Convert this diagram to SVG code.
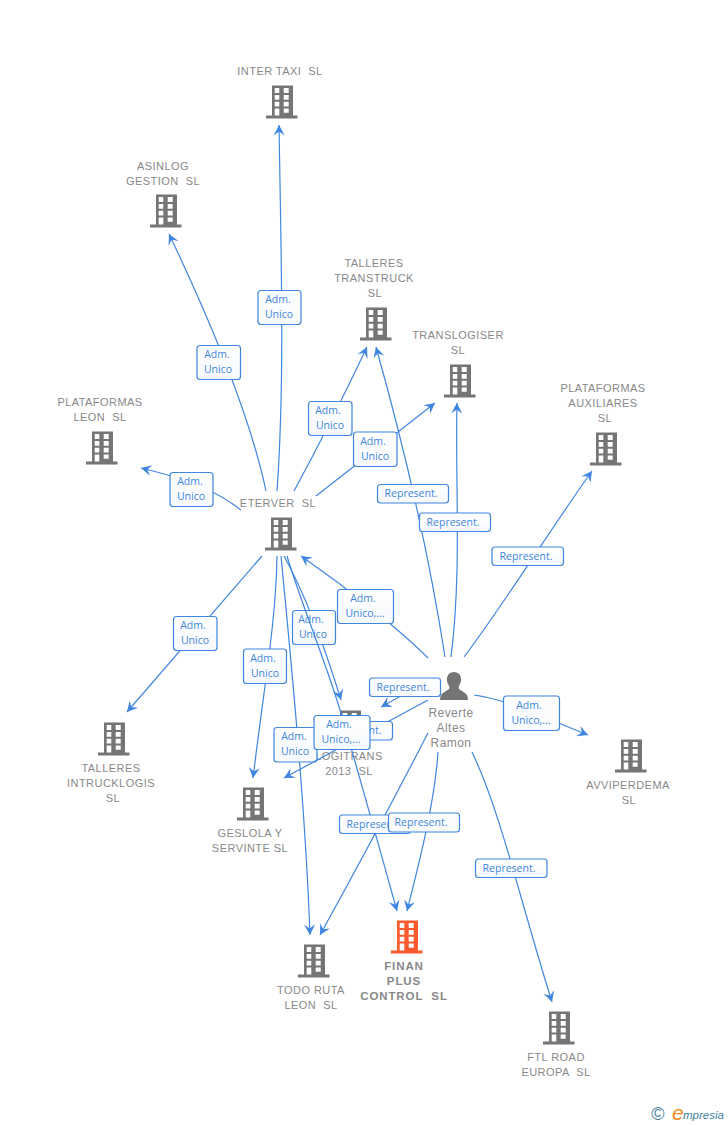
<svg xmlns="http://www.w3.org/2000/svg" width="728" height="1125" viewBox="0 0 728 1125">
<style>
text{font-family:"Liberation Sans",Arial,sans-serif;}
.n{font-size:11px;fill:#888;text-anchor:middle;white-space:pre;letter-spacing:.45px}
.p{font-size:12px;fill:#888;text-anchor:middle;letter-spacing:.45px}
.f{font-size:11.5px;font-weight:bold;fill:#888;text-anchor:middle;white-space:pre;letter-spacing:.9px}
.e{fill:none;stroke:#3f86e0;stroke-width:1.2;marker-end:url(#a)}
.b{fill:url(#g);stroke:#3f86e0;stroke-width:1.2}
.t2{font-size:10.5px;fill:#3f86e0;text-anchor:middle;font-family:"Open Sans","Liberation Sans",sans-serif}
</style>
<defs>
<linearGradient id="g" x1="0" y1="0" x2="0" y2="1"><stop offset="0" stop-color="#fff"/><stop offset="1" stop-color="#f7f9fc"/></linearGradient>
<marker id="a" markerUnits="userSpaceOnUse" markerWidth="14" markerHeight="14" viewBox="-12 -7 14 14" refX="0" refY="0" orient="auto"><path d="M0,0L-10.500,-5.500L-6.500,0L-10.500,5.500Z" fill="#3f86e0"/></marker>
<symbol id="bld" width="32" height="35" viewBox="0 0 32 35"><path fill-rule="evenodd" d="M6,0.500H27V30.500H31.500V33.500H0V30.500H6ZM8.700,3V8H13.300V3ZM17.700,3V8H22.700V3ZM8.700,10V14.700H13.300V10ZM17.700,10V14.700H22.700V10ZM8.700,16.700V21.400H13.300V16.700ZM17.700,16.700V21.400H22.700V16.700ZM8.700,23.400V30.500H13.300V23.400ZM17.700,23.400V27.700H22.700V23.400Z"/></symbol>
</defs>
<g id="nodes">
<g id="inter-taxi" fill="#757575"><use href="#bld" x="266" y="85"/><text class="n" x="280" y="75">INTER TAXI  SL</text></g>
<g id="asinlog" fill="#757575"><use href="#bld" x="150" y="194"/><text class="n" x="163" y="170">ASINLOG</text><text class="n" x="163" y="185">GESTION  SL</text></g>
<g id="talleres-transtruck" fill="#757575"><use href="#bld" x="360" y="307"/><text class="n" x="374" y="267">TALLERES</text><text class="n" x="374" y="282">TRANSTRUCK</text><text class="n" x="375" y="297">SL</text></g>
<g id="translogiser" fill="#757575"><use href="#bld" x="444" y="364"/><text class="n" x="458" y="339">TRANSLOGISER</text><text class="n" x="458" y="354">SL</text></g>
<g id="plataformas-auxiliares" fill="#757575"><use href="#bld" x="590" y="432"/><text class="n" x="603" y="392">PLATAFORMAS</text><text class="n" x="603" y="407">AUXILIARES</text><text class="n" x="605" y="422">SL</text></g>
<g id="plataformas-leon" fill="#757575"><use href="#bld" x="86" y="431"/><text class="n" x="100" y="406">PLATAFORMAS</text><text class="n" x="100" y="421">LEON  SL</text></g>
<g id="eterver" fill="#757575"><use href="#bld" x="265" y="517"/><text class="n" x="278" y="507">ETERVER  SL</text></g>
<g id="talleres-intrucklogis" fill="#757575"><use href="#bld" x="98" y="722"/><text class="n" x="111" y="772">TALLERES</text><text class="n" x="111" y="787">INTRUCKLOGIS</text><text class="n" x="113" y="802">SL</text></g>
<g id="geslola" fill="#757575"><use href="#bld" x="237" y="787"/><text class="n" x="250" y="837">GESLOLA Y</text><text class="n" x="250" y="852">SERVINTE SL</text></g>
<g id="logitrans" fill="#757575"><use href="#bld" x="334" y="710"/><text class="n" x="349" y="760">LOGITRANS</text><text class="n" x="349" y="775">2013  SL</text></g>
<g id="avviperdema" fill="#757575"><use href="#bld" x="615" y="739"/><text class="n" x="628" y="789">AVVIPERDEMA</text><text class="n" x="629" y="804">SL</text></g>
<g id="todo-ruta" fill="#757575"><use href="#bld" x="298" y="944"/><text class="n" x="311" y="994">TODO RUTA</text><text class="n" x="311" y="1009">LEON  SL</text></g>
<g id="finan-plus" fill="#fa5a2d"><use href="#bld" x="391" y="920"/><text class="f" x="404" y="970">FINAN</text><text class="f" x="404" y="985">PLUS</text><text class="f" x="404" y="1000">CONTROL  SL</text></g>
<g id="ftl-road" fill="#757575"><use href="#bld" x="543" y="1011"/><text class="n" x="556" y="1061">FTL ROAD</text><text class="n" x="556" y="1076">EUROPA  SL</text></g>
<g id="reverte"><path fill="#757575" d="M440,700C440,692 446,692 449,689C450,687 449,686 448,684C446,681 446,672 454,672C462,672 462,681 460,684C459,686 458,687 459,689C462,692 468,692 468,700Z"/><text class="p" x="451" y="717">Reverte</text><text class="p" x="451" y="732">Altes</text><text class="p" x="451" y="747">Ramon</text></g>
</g>
<g id="connectors">
<path class="e" d="M277,491C285,380 281,250 279,125"/>
<rect class="b" x="258" y="290.500" width="43" height="34" rx="3"/><text class="t2" x="278" y="303">Adm.</text><text class="t2" x="279" y="318">Unico</text>
<path class="e" d="M266,491C250,415 210,320 169,234"/>
<rect class="b" x="197" y="345.500" width="43.500" height="34" rx="3"/><text class="t2" x="217" y="358">Adm.</text><text class="t2" x="218" y="373">Unico</text>
<path class="e" d="M294,491Q330,425 367,347"/>
<rect class="b" x="308.500" y="401.500" width="43.500" height="34" rx="3"/><text class="t2" x="328" y="414">Adm.</text><text class="t2" x="330" y="429">Unico</text>
<path class="e" d="M316,496Q375,450 435,403"/>
<rect class="b" x="353.500" y="432" width="43.500" height="34.500" rx="3"/><text class="t2" x="373" y="445">Adm.</text><text class="t2" x="375" y="460">Unico</text>
<path class="e" d="M241,510C215,490 190,480 141,468"/>
<rect class="b" x="170" y="472.500" width="43" height="34" rx="3"/><text class="t2" x="190" y="485">Adm.</text><text class="t2" x="191" y="500">Unico</text>
<path class="e" d="M262,556L127,712"/>
<rect class="b" x="173.500" y="616.500" width="43.500" height="34" rx="3"/><text class="t2" x="193" y="629">Adm.</text><text class="t2" x="195" y="644">Unico</text>
<path class="e" d="M277,556C276,620 265,680 253,778"/>
<rect class="b" x="243.500" y="649" width="43" height="34.500" rx="3"/><text class="t2" x="263" y="662">Adm.</text><text class="t2" x="265" y="677">Unico</text>
<path class="e" d="M281,556C290,650 305,800 310,935"/>
<rect class="b" x="274" y="727.500" width="43" height="34.500" rx="3"/><text class="t2" x="294" y="740">Adm.</text><text class="t2" x="295" y="755">Unico</text>
<path class="e" d="M284,556C300,585 318,625 341,700"/>
<rect class="b" x="292.500" y="610.500" width="43" height="34" rx="3"/><text class="t2" x="311" y="623">Adm.</text><text class="t2" x="313" y="638">Unico</text>
<path class="e" d="M287,556C300,600 325,660 340,710S380,850 397,911"/>
<path class="e" d="M428,658C400,630 350,590 301,556"/>
<rect class="b" x="337.500" y="589.500" width="56" height="34" rx="3"/><text class="t2" x="363" y="602">Adm.</text><text class="t2" x="365" y="617">Unico,...</text>
<path class="e" d="M445,657C430,560 405,450 376,347"/>
<rect class="b" x="377.500" y="484.500" width="71" height="18.500" rx="3"/><text class="t2" x="411" y="497">Represent.</text>
<path class="e" d="M451,657C462,570 455,480 457,403"/>
<rect class="b" x="419.500" y="513" width="71" height="18.500" rx="3"/><text class="t2" x="453" y="526">Represent.</text>
<path class="e" d="M464,657C500,610 550,530 592,471"/>
<rect class="b" x="492" y="547" width="71.500" height="18.500" rx="3"/><text class="t2" x="526" y="560">Represent.</text>
<path class="e" d="M430,680L381,707"/>
<rect class="b" x="369.500" y="678" width="71" height="18.500" rx="3"/><text class="t2" x="403" y="691">Represent.</text>
<path class="e" d="M428,700L284,778"/>
<rect class="b" x="321.500" y="721.500" width="71" height="18.500" rx="3"/><text class="t2" x="355" y="734">Represent.</text>
<rect class="b" x="314" y="715.500" width="56" height="34" rx="3"/><text class="t2" x="339" y="728">Adm.</text><text class="t2" x="341" y="743">Unico,...</text>
<path class="e" d="M474,695C510,700 550,720 588,735"/>
<rect class="b" x="503.500" y="696" width="56" height="34.500" rx="3"/><text class="t2" x="529" y="709">Adm.</text><text class="t2" x="531" y="724">Unico,...</text>
<path class="e" d="M428,733Q378,830 320,935"/>
<rect class="b" x="339.500" y="815" width="71" height="18.500" rx="3"/><text class="t2" x="373" y="828">Represent.</text>
<path class="e" d="M438,752C435,800 420,860 407,911"/>
<rect class="b" x="388.500" y="813" width="71" height="19" rx="3"/><text class="t2" x="421" y="826">Represent.</text>
<path class="e" d="M472,752C500,810 520,900 552,1002"/>
<rect class="b" x="475.500" y="859" width="71.500" height="18.500" rx="3"/><text class="t2" x="509" y="872">Represent.</text>
</g>
<g id="footer">
<text x="658" y="1120" font-size="18" fill="#3f7f9a" text-anchor="middle">©</text>
<text x="672" y="1120" font-size="21" font-style="italic" fill="#f08a1e">e</text>
<text x="683" y="1119" font-size="11.500" font-style="italic" fill="#3f7f9a">mpresia</text>
</g>
</svg>
